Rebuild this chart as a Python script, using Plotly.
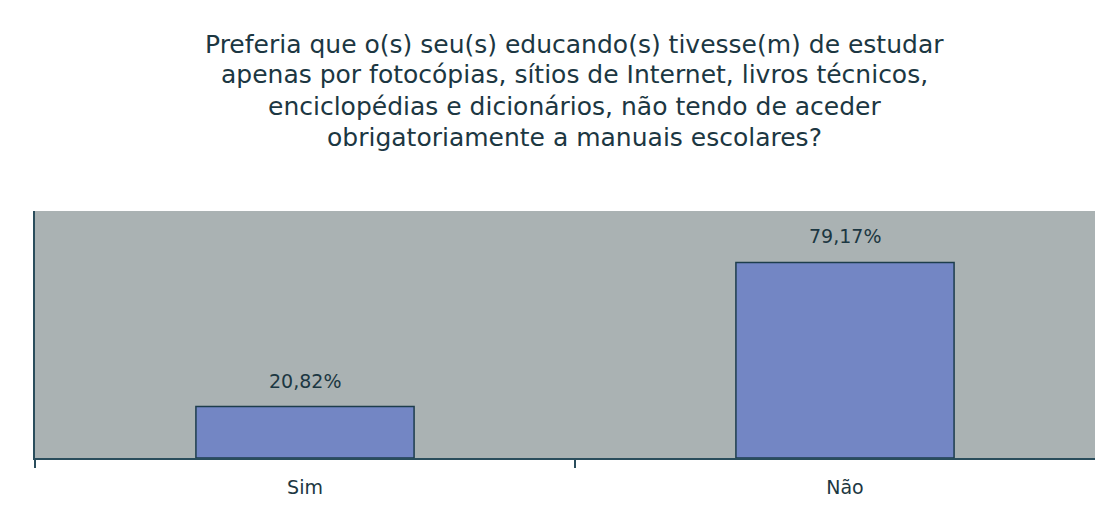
import plotly.graph_objects as go

categories = ["Sim", "Não"]
values = [20.82, 79.17]
labels = [f"{v:.2f}".replace(".", ",") + "%" for v in values]

title_lines = [
    "Preferia que o(s) seu(s) educando(s) tivesse(m) de estudar",
    "apenas por fotocópias, sítios de Internet, livros técnicos,",
    "enciclopédias e dicionários, não tendo de aceder",
    "obrigatoriamente a manuais escolares?",
]

txt = "#1c3742"
font = "DejaVu Sans, Verdana, sans-serif"

# page offset of the figure (body margin) is 8px
W, H = 1103, 489
L, T = 27, 203
plot_h = 247
B = H - T - plot_h
plot_w = W - L

fig = go.Figure()
fig.add_trace(go.Bar(
    x=categories, y=values, width=0.404,
    marker=dict(color="#7386c4", line=dict(color="#1d3d4c", width=1.5)),
    hoverinfo="skip",
))
for c, v, t in zip(categories, values, labels):
    fig.add_annotation(x=c, y=v, text=t, showarrow=False, yanchor="bottom",
                       yshift=13, font=dict(size=19, color=txt, family=font))

# title lines
line_centers = [44, 75, 106, 137]  # page pixel centres
for line, yc in zip(title_lines, line_centers):
    fig.add_annotation(
        text=line, showarrow=False, xref="paper", yref="paper",
        x=(574 - 35) / plot_w, xanchor="center",
        y=(458 - yc) / plot_h, yanchor="middle",
        font=dict(size=25, color=txt, family=font))

# category spacing of 540px
xmax = -0.5 + plot_w / 540

fig.update_layout(
    width=W, height=H,
    margin=dict(l=L, r=0, t=T, b=B),
    paper_bgcolor="white", plot_bgcolor="#aab2b3",
    showlegend=False,
    xaxis=dict(type="category", range=[-0.5, xmax], showline=True,
               linecolor="#2a4d5c", linewidth=2, ticks="outside",
               tickson="boundaries", ticklen=8, tickcolor="#2a4d5c",
               tickwidth=2, showgrid=False, zeroline=False,
               ticklabelstandoff=11,
               tickfont=dict(size=19, color=txt, family=font)),
    yaxis=dict(range=[0, 100], showline=True, linecolor="#2a4d5c",
               linewidth=2, showticklabels=False, showgrid=False,
               zeroline=False, ticks=""),
)
fig.write_html("out.html")
